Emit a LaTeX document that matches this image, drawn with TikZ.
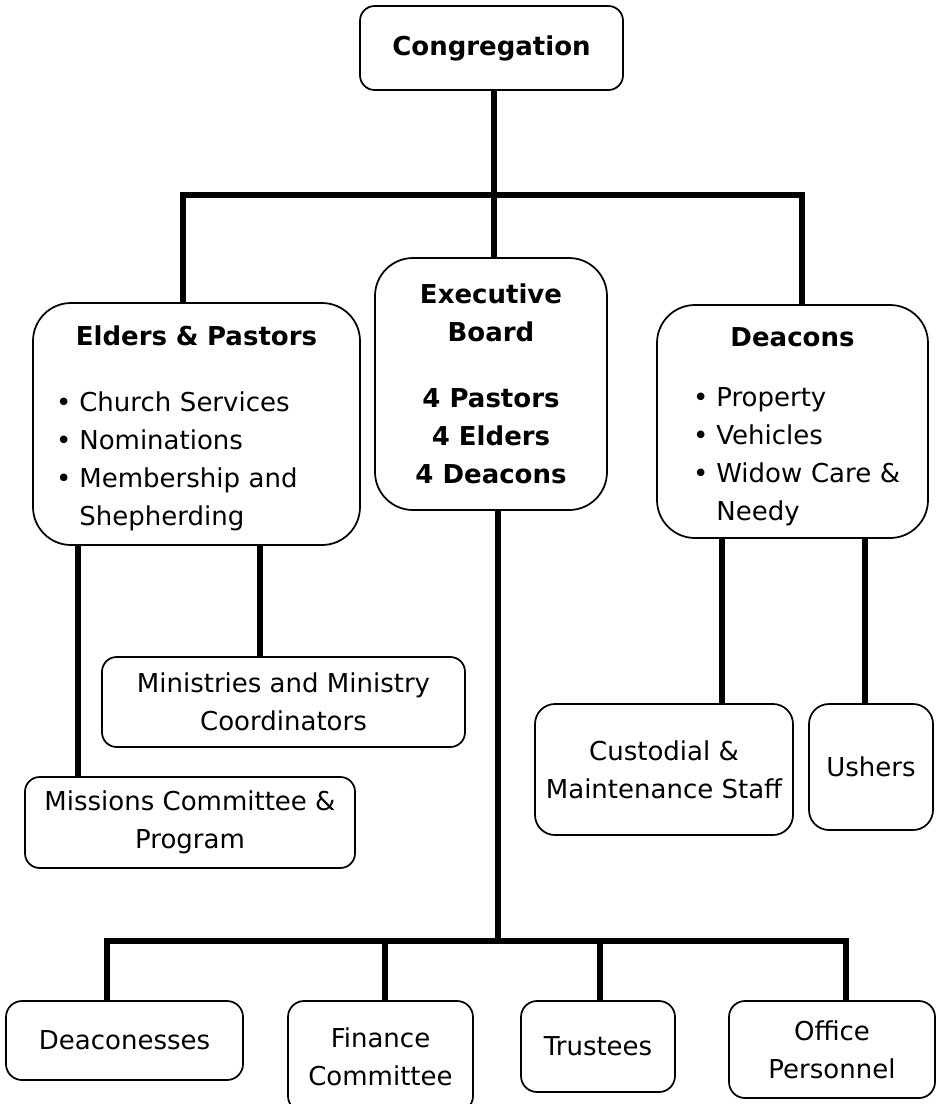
\documentclass[tikz,border=0pt]{standalone}
\usepackage{fontspec}
\setmainfont{DejaVu Sans}
\newcommand{\orgfont}{\fontsize{19.5}{28.5}\selectfont}
\newcommand{\orgitem}[1]{\mbox{\makebox[17.5pt][l]{\textbullet}#1}}
\newcommand{\orgcont}[1]{\mbox{\hspace*{17.5pt}#1}}
\tikzset{
	orgbox/.style={draw, line width=1.3pt, rounded corners=#1, outer sep=0pt, inner sep=0pt, align=center, font=\orgfont},
	orgbox/.default=11pt,
	boldbox/.style={orgbox=#1, font=\orgfont\bfseries},
	boldbox/.default=11pt,
	wire/.style={line width=4.5pt, line join=miter},
}
\begin{document}
\begin{tikzpicture}[x=0.75pt,y=-0.75pt]
	\useasboundingbox (0,0) rectangle (938,1104);
	\node (cong) at (491.5,48) [boldbox, minimum width=197.25pt, minimum height=63pt] {Congregation};
	\node (elders) at (196.5,424) [orgbox=28.5pt, align=left, minimum width=245.25pt, minimum height=181.5pt, text width=210.75pt, inner xsep=17.25pt] {\centering\bfseries\rule{0pt}{21pt}Elders \& Pastors\par\vspace{21pt}\raggedright\mdseries\orgitem{Church Services}\\\orgitem{Nominations}\\\orgitem{Membership and}\\\orgcont{Shepherding}\par};
	\node (exec) at (491,384) [boldbox=28.5pt, minimum width=174pt, minimum height=189pt] {Executive\\Board\\[21pt]4 Pastors\\4 Elders\\4 Deacons};
	\node (deacons) at (792.5,421.5) [orgbox=28.5pt, align=left, minimum width=203.25pt, minimum height=174.75pt, text width=149.25pt, inner xsep=27pt] {\centering\bfseries\rule{0pt}{22pt}Deacons\par\vspace{16.5pt}\raggedright\mdseries\orgitem{Property}\\\orgitem{Vehicles}\\\orgitem{Widow Care \&}\\\orgcont{Needy}\par};
	\node (minis) at (283.5,702) [orgbox, minimum width=272.25pt, minimum height=67.5pt] {Ministries and Ministry\\Coordinators};
	\node (missions) at (190,822.5) [orgbox, minimum width=247.5pt, minimum height=68.25pt] {Missions Committee \&\\Program};
	\node (custod) at (664,769.5) [orgbox=15pt, minimum width=193.5pt, minimum height=98.25pt] {Custodial \&\\Maintenance Staff};
	\node (ushers) at (871,767) [orgbox=15pt, minimum width=93pt, minimum height=94.5pt] {Ushers};
	\node (dcness) at (124.5,1040.5) [orgbox=12pt, minimum width=177.75pt, minimum height=59.25pt] {Deaconesses};
	\node (finance) at (380.5,1056.5) [orgbox=12pt, minimum width=138.75pt, minimum height=83.25pt] {Finance\\Committee};
	\node (trustees) at (598,1046.5) [orgbox=12pt, minimum width=115.5pt, minimum height=68.25pt] {Trustees};
	\node (office) at (832,1049.5) [orgbox=12pt, minimum width=154.5pt, minimum height=72.75pt] {Office\\Personnel};
	\coordinate (tJ) at (494,195);
	\coordinate (tL) at (183,195);
	\coordinate (tR) at (802,195);
	\draw[wire] (cong.south -| tJ) -- (tJ);
	\draw[wire] (elders.north -| tL) -- (tL) -- (tR) -- (deacons.north -| tR);
	\draw[wire] (tJ) -- (exec.north -| tJ);
	\coordinate (e1) at (78,545);
	\coordinate (e2) at (260,545);
	\draw[wire] (e1) -- (e1 |- missions.north);
	\draw[wire] (e2) -- (e2 |- minis.north);
	\coordinate (d1) at (722,538);
	\coordinate (d2) at (865,538);
	\draw[wire] (d1) -- (d1 |- custod.north);
	\draw[wire] (d2) -- (d2 |- ushers.north);
	\coordinate (bJ) at (498,941);
	\coordinate (b1) at (107,941);
	\coordinate (b2) at (385,941);
	\coordinate (b3) at (600,941);
	\coordinate (b4) at (846,941);
	\draw[wire] (exec.south -| bJ) -- (bJ);
	\draw[wire] (dcness.north -| b1) -- (b1) -- (b4) -- (office.north -| b4);
	\draw[wire] (b2) -- (finance.north -| b2);
	\draw[wire] (b3) -- (trustees.north -| b3);
\end{tikzpicture}
\end{document}
